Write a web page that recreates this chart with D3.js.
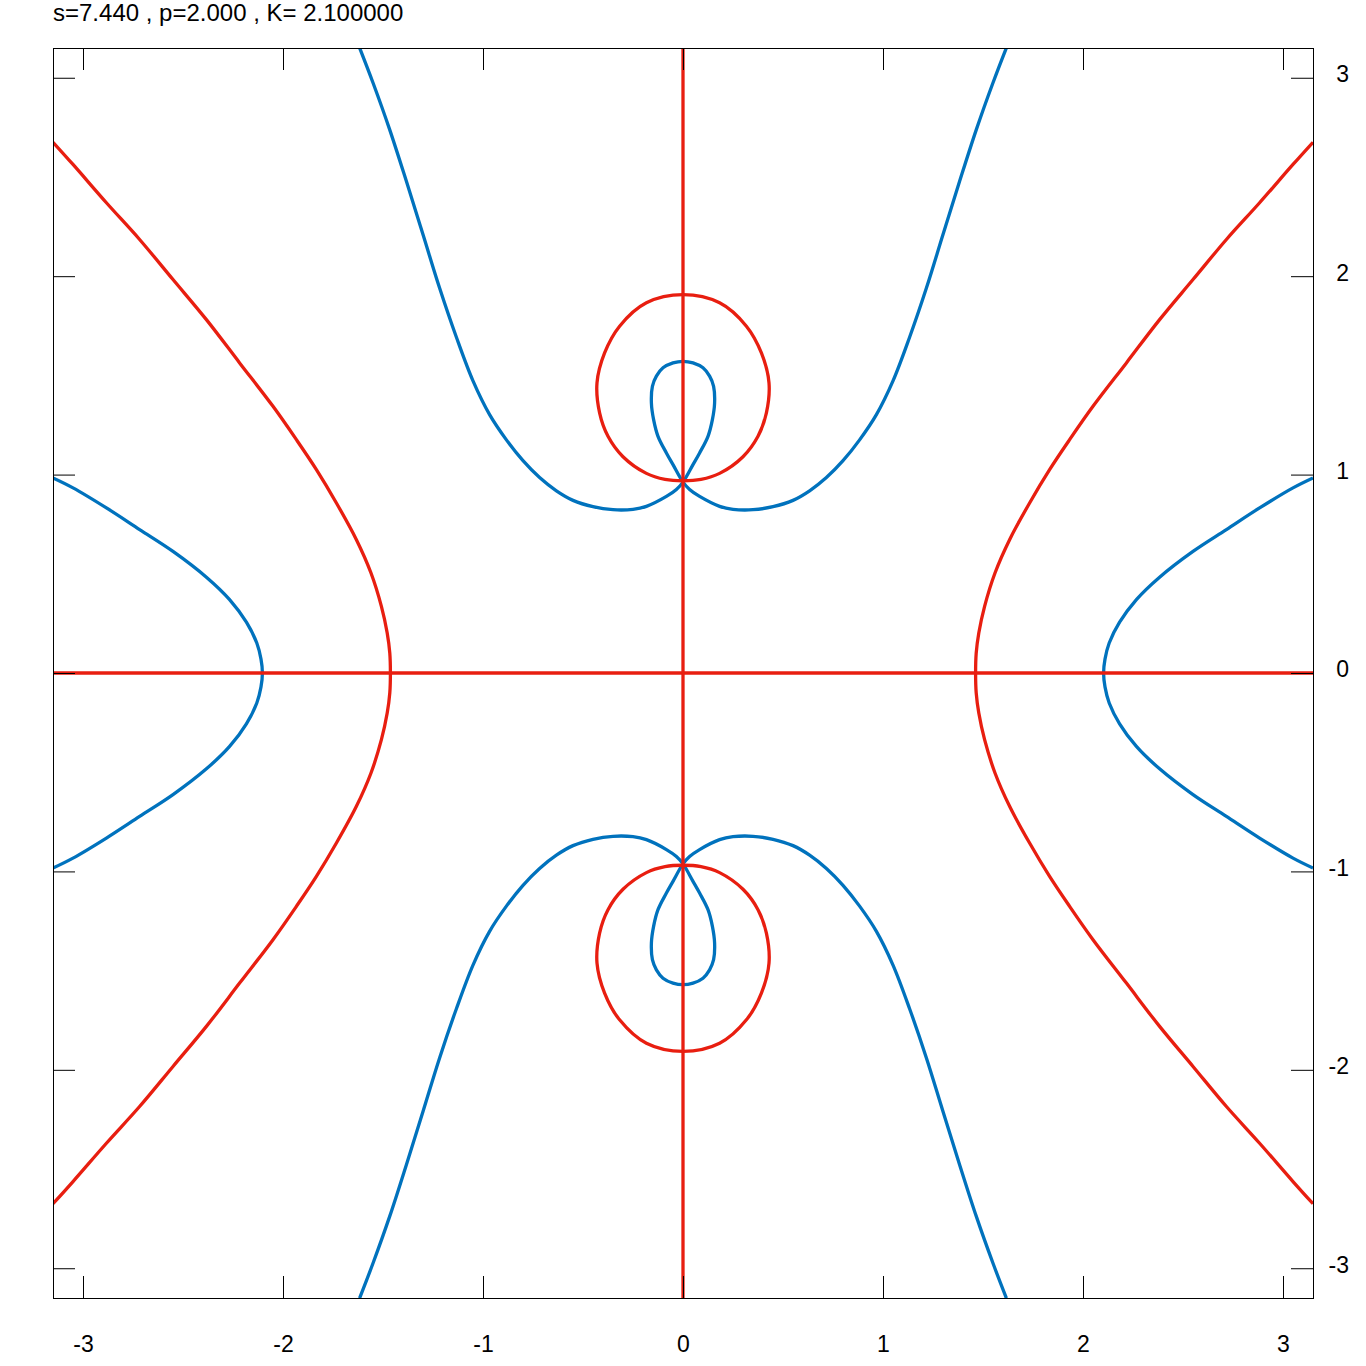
<!DOCTYPE html>
<html>
<head>
<meta charset="utf-8">
<script src="https://cdn.jsdelivr.net/npm/d3@7"></script>
<style>
  body { margin: 0; background: #fff; }
  text { font-family: "Liberation Sans", Arial, sans-serif; fill: #000; }
</style>
</head>
<body>
<div id="chart"></div>
<script>
const titleText = "s=7.440 , p=2.000 , K= 2.100000";
const xTicks = [-3, -2, -1, 0, 1, 2, 3];
const yTicks = [-3, -2, -1, 0, 1, 2, 3];
const xDomain = [-3.15, 3.15];
const yDomain = [-3.15, 3.15];

// red level: the two axes
const redHorizontal = [[-3.15, 0], [3.15, 0]];
const redVertical = [[0, -3.15], [0, 3.15]];

// red level: outer branches
const redRightBranch = [
  [3.15, 2.675], [3.05, 2.563], [2.883, 2.37], [2.717, 2.185], [2.55, 1.983],
  [2.383, 1.781], [2.217, 1.563], [2.05, 1.344], [1.933, 1.176], [1.833, 1.025],
  [1.733, 0.857], [1.633, 0.672], [1.56, 0.504], [1.508, 0.336], [1.479, 0.202],
  [1.466, 0.1], [1.463, 0], [1.466, -0.1],
  [1.479, -0.202], [1.508, -0.336], [1.56, -0.504], [1.633, -0.672], [1.733, -0.857],
  [1.833, -1.025], [1.933, -1.176], [2.05, -1.344], [2.217, -1.563], [2.383, -1.781],
  [2.55, -1.983], [2.717, -2.185], [2.883, -2.37], [3.05, -2.563], [3.15, -2.675]
];
const redLeftBranch = [
  [-3.15, 2.675], [-3.05, 2.563], [-2.883, 2.37], [-2.717, 2.185], [-2.55, 1.983],
  [-2.383, 1.781], [-2.217, 1.563], [-2.05, 1.344], [-1.933, 1.176], [-1.833, 1.025],
  [-1.733, 0.857], [-1.633, 0.672], [-1.56, 0.504], [-1.508, 0.336], [-1.479, 0.202],
  [-1.466, 0.1], [-1.463, 0], [-1.466, -0.1],
  [-1.479, -0.202], [-1.508, -0.336], [-1.56, -0.504], [-1.633, -0.672], [-1.733, -0.857],
  [-1.833, -1.025], [-1.933, -1.176], [-2.05, -1.344], [-2.217, -1.563], [-2.383, -1.781],
  [-2.55, -1.983], [-2.717, -2.185], [-2.883, -2.37], [-3.05, -2.563], [-3.15, -2.675]
];

// red level: closed loops around (0, +-1.44)
const redUpperLoop = [
  [0, 1.907], [0.183, 1.866], [0.317, 1.748], [0.392, 1.613], [0.43, 1.462],
  [0.417, 1.311], [0.375, 1.193], [0.3, 1.09], [0.183, 1.006], [0.09, 0.976], [0, 0.969],
  [-0.09, 0.976], [-0.183, 1.006], [-0.3, 1.09], [-0.375, 1.193], [-0.417, 1.311], [-0.43, 1.462],
  [-0.392, 1.613], [-0.317, 1.748], [-0.183, 1.866]
];
const redLowerLoop = [
  [0, -1.907], [0.183, -1.866], [0.317, -1.748], [0.392, -1.613], [0.43, -1.462],
  [0.417, -1.311], [0.375, -1.193], [0.3, -1.09], [0.183, -1.006], [0.09, -0.976], [0, -0.969],
  [-0.09, -0.976], [-0.183, -1.006], [-0.3, -1.09], [-0.375, -1.193], [-0.417, -1.311], [-0.43, -1.462],
  [-0.392, -1.613], [-0.317, -1.748], [-0.183, -1.866]
];

// blue level: outer branches
const blueRightBranch = [
  [3.15, 0.983], [3.05, 0.933], [2.883, 0.832], [2.717, 0.723], [2.55, 0.613],
  [2.383, 0.483], [2.267, 0.37], [2.183, 0.256], [2.131, 0.151], [2.11, 0.07], [2.103, 0],
  [2.11, -0.07], [2.131, -0.151], [2.183, -0.256], [2.267, -0.37], [2.383, -0.483],
  [2.55, -0.613], [2.717, -0.723], [2.883, -0.832], [3.05, -0.933], [3.15, -0.983]
];
const blueLeftBranch = [
  [-3.15, 0.983], [-3.05, 0.933], [-2.883, 0.832], [-2.717, 0.723], [-2.55, 0.613],
  [-2.383, 0.483], [-2.267, 0.37], [-2.183, 0.256], [-2.131, 0.151], [-2.11, 0.07], [-2.103, 0],
  [-2.11, -0.07], [-2.131, -0.151], [-2.183, -0.256], [-2.267, -0.37], [-2.383, -0.483],
  [-2.55, -0.613], [-2.717, -0.723], [-2.883, -0.832], [-3.05, -0.933], [-3.15, -0.983]
];

// blue level: upper curve, left arm -> node -> teardrop -> node -> right arm
const blueUpperCurve = [
  [-1.617, 3.151], [-1.55, 2.975], [-1.467, 2.74], [-1.383, 2.478], [-1.3, 2.21],
  [-1.217, 1.94], [-1.133, 1.692], [-1.05, 1.472], [-0.967, 1.302], [-0.883, 1.175],
  [-0.8, 1.07], [-0.717, 0.985], [-0.633, 0.918], [-0.55, 0.87], [-0.45, 0.838],
  [-0.35, 0.823], [-0.25, 0.825], [-0.183, 0.84], [-0.083, 0.89], [-0.033, 0.925], [0, 0.962],
  [0.05, 1.05], [0.083, 1.109], [0.125, 1.193], [0.147, 1.277], [0.158, 1.361],
  [0.153, 1.445], [0.133, 1.496], [0.1, 1.538], [0.05, 1.563], [0, 1.571],
  [-0.05, 1.563], [-0.1, 1.538], [-0.133, 1.496], [-0.153, 1.445], [-0.158, 1.361],
  [-0.147, 1.277], [-0.125, 1.193], [-0.083, 1.109], [-0.05, 1.05],
  [0, 0.962], [0.033, 0.925], [0.083, 0.89], [0.183, 0.84], [0.25, 0.825], [0.35, 0.823],
  [0.45, 0.838], [0.55, 0.87], [0.633, 0.918], [0.717, 0.985], [0.8, 1.07],
  [0.883, 1.175], [0.967, 1.302], [1.05, 1.472], [1.133, 1.692], [1.217, 1.94],
  [1.3, 2.21], [1.383, 2.478], [1.467, 2.74], [1.55, 2.975], [1.617, 3.151]
];
const blueLowerCurve = [
  [-1.617, -3.151], [-1.55, -2.975], [-1.467, -2.74], [-1.383, -2.478], [-1.3, -2.21],
  [-1.217, -1.94], [-1.133, -1.692], [-1.05, -1.472], [-0.967, -1.302], [-0.883, -1.175],
  [-0.8, -1.07], [-0.717, -0.985], [-0.633, -0.918], [-0.55, -0.87], [-0.45, -0.838],
  [-0.35, -0.823], [-0.25, -0.825], [-0.183, -0.84], [-0.083, -0.89], [-0.033, -0.925], [0, -0.962],
  [0.05, -1.05], [0.083, -1.109], [0.125, -1.193], [0.147, -1.277], [0.158, -1.361],
  [0.153, -1.445], [0.133, -1.496], [0.1, -1.538], [0.05, -1.563], [0, -1.571],
  [-0.05, -1.563], [-0.1, -1.538], [-0.133, -1.496], [-0.153, -1.445], [-0.158, -1.361],
  [-0.147, -1.277], [-0.125, -1.193], [-0.083, -1.109], [-0.05, -1.05],
  [0, -0.962], [0.033, -0.925], [0.083, -0.89], [0.183, -0.84], [0.25, -0.825], [0.35, -0.823],
  [0.45, -0.838], [0.55, -0.87], [0.633, -0.918], [0.717, -0.985], [0.8, -1.07],
  [0.883, -1.175], [0.967, -1.302], [1.05, -1.472], [1.133, -1.692], [1.217, -1.94],
  [1.3, -2.21], [1.383, -2.478], [1.467, -2.74], [1.55, -2.975], [1.617, -3.151]
];

const RED = "#e81e10";
const BLUE = "#0072bd";

const W = 1366, H = 1366;
const margin = { top: 48, left: 53 };
const plotW = 1260, plotH = 1250;

const svg = d3.select("#chart").append("svg")
  .attr("width", W)
  .attr("height", H)
  .style("background", "#fff");

const x = d3.scaleLinear().domain(xDomain).range([0, plotW]);
const y = d3.scaleLinear().domain(yDomain).range([plotH, 0]);

const g = svg.append("g").attr("transform", `translate(${margin.left},${margin.top})`);

g.append("clipPath").attr("id", "plot-clip")
  .append("rect").attr("width", plotW).attr("height", plotH);

// curves
const open = d3.line().x(d => x(d[0])).y(d => y(d[1])).curve(d3.curveCatmullRom);
const closed = d3.line().x(d => x(d[0])).y(d => y(d[1])).curve(d3.curveCatmullRomClosed);
const straight = d3.line().x(d => x(d[0])).y(d => y(d[1]));

const curves = g.append("g").attr("clip-path", "url(#plot-clip)")
  .attr("fill", "none")
  .attr("stroke-width", 3.3)
  .attr("stroke-linejoin", "round");

[blueRightBranch, blueLeftBranch, blueUpperCurve, blueLowerCurve].forEach(pts => {
  curves.append("path").attr("d", open(pts)).attr("stroke", BLUE);
});
[redRightBranch, redLeftBranch].forEach(pts => {
  curves.append("path").attr("d", open(pts)).attr("stroke", RED);
});
[redUpperLoop, redLowerLoop].forEach(pts => {
  curves.append("path").attr("d", closed(pts)).attr("stroke", RED);
});
[redHorizontal, redVertical].forEach(pts => {
  curves.append("path").attr("d", straight(pts)).attr("stroke", RED);
});

// axes: ticks pointing inward on all four sides, labels only bottom and right
const fmt = d => String(d);
const tickLen = 22;

const xBottom = g.append("g").attr("transform", `translate(0,${plotH})`)
  .call(d3.axisBottom(x).tickValues(xTicks).tickFormat(fmt).tickSizeInner(-tickLen).tickSizeOuter(0).tickPadding(38));
const xTop = g.append("g")
  .call(d3.axisTop(x).tickValues(xTicks).tickFormat("").tickSizeInner(-tickLen).tickSizeOuter(0));
const yLeft = g.append("g")
  .call(d3.axisLeft(y).tickValues(yTicks).tickFormat("").tickSizeInner(-tickLen).tickSizeOuter(0));
const yRight = g.append("g").attr("transform", `translate(${plotW},0)`)
  .call(d3.axisRight(y).tickValues(yTicks).tickFormat(fmt).tickSizeInner(-tickLen).tickSizeOuter(0));

[xBottom, xTop, yLeft, yRight].forEach(a => {
  a.select(".domain").remove();
  a.selectAll(".tick line").attr("stroke", "#000").attr("stroke-width", 1);
  a.selectAll("text").style("font-size", "23px").attr("fill", "#000");
});
yRight.selectAll(".tick text")
  .attr("text-anchor", "end")
  .attr("x", 36)
  .attr("dy", "0.17em");

// frame
g.append("rect")
  .attr("x", 0.5).attr("y", 0.5)
  .attr("width", plotW).attr("height", plotH)
  .attr("fill", "none")
  .attr("stroke", "#000")
  .attr("stroke-width", 1);

// title
svg.append("text")
  .attr("x", margin.left)
  .attr("y", 21)
  .style("font-size", "24px")
  .text(titleText);
</script>
</body>
</html>
